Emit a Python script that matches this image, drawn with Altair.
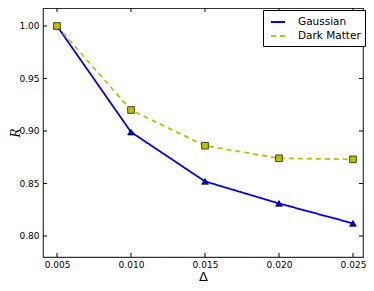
import altair as alt
import pandas as pd

delta = [0.005, 0.010, 0.015, 0.020, 0.025]
gaussian = [1.000, 0.899, 0.852, 0.831, 0.812]
dark_matter = [1.000, 0.920, 0.886, 0.874, 0.873]
series_names = ["Gaussian", "Dark Matter"]
series_colors = ["#0000ff", "#bfbf00"]
x_ticks = [0.005, 0.010, 0.015, 0.020, 0.025]
y_ticks = [0.80, 0.85, 0.90, 0.95, 1.00]

W, H = 320, 249
X_DOMAIN = [0.004054, 0.025676]
Y_DOMAIN = [0.78, 1.01714]

rows = []
for d, g in zip(delta, gaussian):
    rows.append({"delta": d, "R": g, "series": "Gaussian"})
for d, m in zip(delta, dark_matter):
    rows.append({"delta": d, "R": m, "series": "Dark Matter"})
df = pd.DataFrame(rows)
xt = pd.DataFrame({"t": x_ticks})
yt = pd.DataFrame({"t": y_ticks})

xscale = alt.Scale(domain=X_DOMAIN, nice=False, zero=False)
yscale = alt.Scale(domain=Y_DOMAIN, nice=False, zero=False)

x_enc = alt.X("delta:Q", scale=xscale,
              axis=alt.Axis(title="Δ", values=x_ticks, format=".3f", ticks=False,
                            domain=False, grid=False, labelPadding=3,
                            titleY=23, titleBaseline="alphabetic",
                            titleFont="DejaVu Sans", titleFontSize=13, titleFontWeight="normal"))
y_enc = alt.Y("R:Q", scale=yscale,
              axis=alt.Axis(title="R", values=y_ticks, format=".2f", ticks=False,
                            domain=False, grid=False, labelPadding=4,
                            titleX=-28, titleY=H / 2, titleBaseline="middle",
                            titleFont="DejaVu Serif", titleFontStyle="italic",
                            titleFontSize=12, titleFontWeight="normal"))

lines = alt.Chart(df).mark_line(strokeWidth=1.8).encode(
    x=x_enc, y=y_enc,
    color=alt.Color("series:N", scale=alt.Scale(domain=series_names, range=series_colors),
                    sort=series_names,
                    legend=alt.Legend(title=None, orient="none", legendX=220, legendY=2,
                                      symbolType="stroke", symbolSize=196, symbolStrokeWidth=2,
                                      symbolOffset=3,
                                      labelFontSize=10.5, labelFont="DejaVu Sans",
                                      labelColor="black", labelOffset=12,
                                      padding=4, rowPadding=0, strokeColor="black",
                                      fillColor="white", cornerRadius=0)),
    strokeDash=alt.StrokeDash("series:N", scale=alt.Scale(domain=series_names, range=[[1, 0], [5, 4]]),
                              sort=series_names, legend=alt.Legend(title=None, orient="none",
                                                                   legendX=220, legendY=2)),
    order=alt.Order("delta:Q"),
)

g_pts = alt.Chart(df).transform_filter(alt.datum.series == "Gaussian").mark_point(
    shape="triangle-up", filled=True, fill="#0000ff", stroke="black", strokeWidth=0.7,
    size=45, opacity=1).encode(x=alt.X("delta:Q", scale=xscale), y=alt.Y("R:Q", scale=yscale))

d_pts = alt.Chart(df).transform_filter(alt.datum.series == "Dark Matter").mark_point(
    shape="square", filled=True, fill="#bfbf00", stroke="black", strokeWidth=0.7,
    size=45, opacity=1).encode(x=alt.X("delta:Q", scale=xscale), y=alt.Y("R:Q", scale=yscale))

TK = 4
bx = alt.Chart(xt).mark_rule(color="black", strokeWidth=1).encode(
    x=alt.X("t:Q", scale=xscale), y=alt.value(H), y2=alt.value(H - TK))
tx = alt.Chart(xt).mark_rule(color="black", strokeWidth=1).encode(
    x=alt.X("t:Q", scale=xscale), y=alt.value(0), y2=alt.value(TK))
ly = alt.Chart(yt).mark_rule(color="black", strokeWidth=1).encode(
    y=alt.Y("t:Q", scale=yscale), x=alt.value(0), x2=alt.value(TK))
ry = alt.Chart(yt).mark_rule(color="black", strokeWidth=1).encode(
    y=alt.Y("t:Q", scale=yscale), x=alt.value(W), x2=alt.value(W - TK))

chart = alt.layer(lines, g_pts, d_pts, bx, tx, ly, ry).properties(
    width=W, height=H,
    autosize=alt.AutoSizeParams(type="none"),
    padding={"left": 35, "top": 0, "right": 3, "bottom": 26},
).configure_view(stroke="#333333", strokeWidth=1.2).configure_axis(
    labelFont="DejaVu Sans", labelFontSize=9, labelColor="black", titleColor="black"
).configure_legend(symbolStrokeColor=None)

chart.save("out.html", embed_options={"renderer": "svg", "actions": False})
